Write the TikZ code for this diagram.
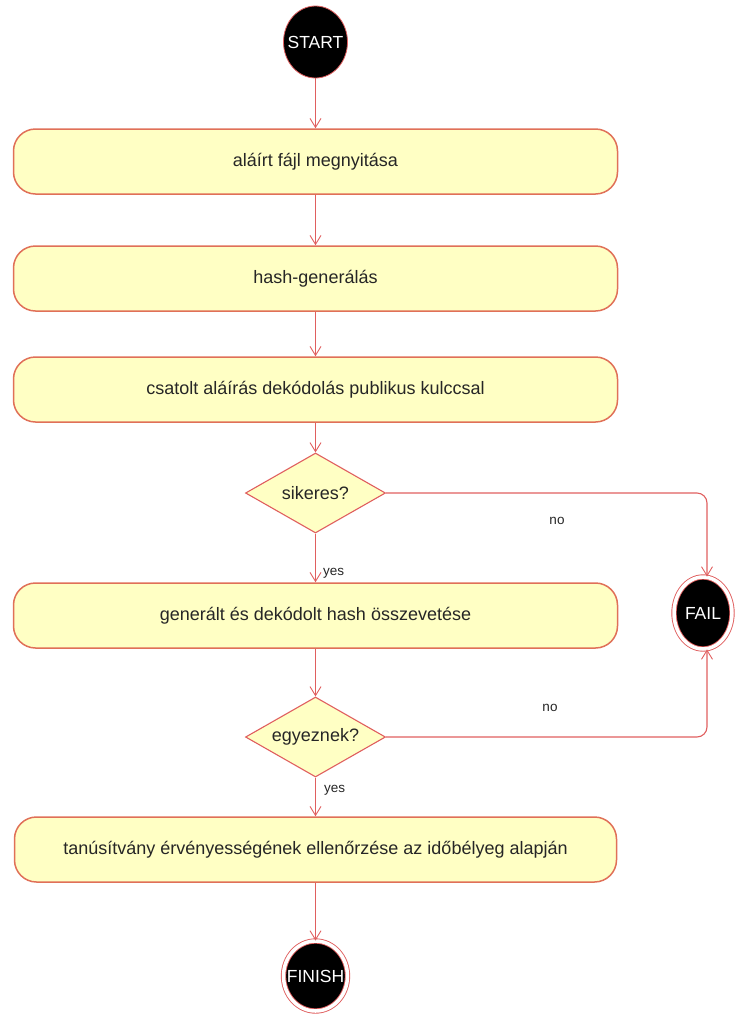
\documentclass[tikz,border=0pt]{standalone}
\usepackage{fontspec}
\setmainfont{Liberation Sans}
\usetikzlibrary{shapes.geometric,arrows.meta}
\definecolor{boxfill}{HTML}{FFFFC4}
\definecolor{boxline}{HTML}{E07058}
\definecolor{conline}{HTML}{E05F5F}
\definecolor{txt}{HTML}{262626}
\tikzset{
  action/.style={draw=boxline, line width=1.5pt, fill=boxfill, rounded corners=22pt,
    minimum width=604pt, minimum height=65pt, inner sep=0pt, text=txt,
    font=\fontsize{18}{21}\selectfont},
  decision/.style={diamond, draw=conline, line width=1.1pt, fill=boxfill,
    minimum width=140pt, minimum height=80pt, inner sep=0pt, text=txt,
    font=\fontsize{18}{21}\selectfont},
  startnode/.style={ellipse, draw=conline, line width=0.8pt, fill=black, text=white,
    minimum width=64pt, minimum height=72pt, inner sep=0pt,
    font=\fontsize{17.5}{20}\selectfont},
  endnode/.style={ellipse, draw=conline, line width=0.9pt, double=white, double distance=3.5pt,
    fill=black, text=white, inner sep=0pt, font=\fontsize{17.5}{20}\selectfont},
  flow/.style={draw=conline, line width=1.1pt, -{Straight Barb[length=9pt,width=11pt,line width=0.9pt]}},
  lbl/.style={text=txt, font=\fontsize{13.5}{15}\selectfont, inner sep=0pt},
}
\begin{document}
\begin{tikzpicture}[x=1pt,y=-1pt]
\useasboundingbox (0,0) rectangle (735,1021);
\node[startnode] (start) at (315.5,42) {\makebox[0pt]{START}};
\node[action] (b1) at (315.5,161.5) {aláírt fájl megnyitása};
\node[action] (b2) at (315.5,278.5) {hash-generálás};
\node[action] (b3) at (315.5,389.5) {csatolt aláírás dekódolás publikus kulccsal};
\node[decision] (d1) at (315.5,493) {\makebox[0pt]{sikeres?}};
\node[action] (b4) at (315.5,615.5) {generált és dekódolt hash összevetése};
\node[decision] (d2) at (315.5,737) {\makebox[0pt]{egyeznek?}};
\node[action, minimum width=602pt] (b5) at (315.5,849.5) {tanúsítvány érvényességének ellenőrzése az időbélyeg alapján};
\node[endnode, minimum width=64pt, minimum height=70pt] (finish) at (315.5,976) {\makebox[0pt]{FINISH}};
\node[endnode, minimum width=58pt, minimum height=72pt] (fail) at (703,613) {\makebox[0pt]{FAIL}};
\coordinate (c1) at (707,493);
\coordinate (c2) at (707,737);

\draw[flow] (start) -- (b1);
\draw[flow] (b1) -- (b2);
\draw[flow] (b2) -- (b3);
\draw[flow] (b3) -- (d1);
\draw[flow] (d1) -- (b4);
\draw[flow] (b4) -- (d2);
\draw[flow] (d2) -- (b5);
\draw[flow] (b5) -- (finish);
\draw[flow, rounded corners=10pt] (d1.east) -- (c1) -- (fail.north -| c1);
\draw[flow, rounded corners=10pt] (d2.east) -- (c2) -- (fail.south -| c2);

\node[lbl, anchor=west] (y1) at (323,573) {yes};
\node[lbl, anchor=west] (y2) at (324,790) {yes};
\node[lbl] (n1) at (557,521) {no};
\node[lbl] (n2) at (550,708) {no};
\end{tikzpicture}
\end{document}
